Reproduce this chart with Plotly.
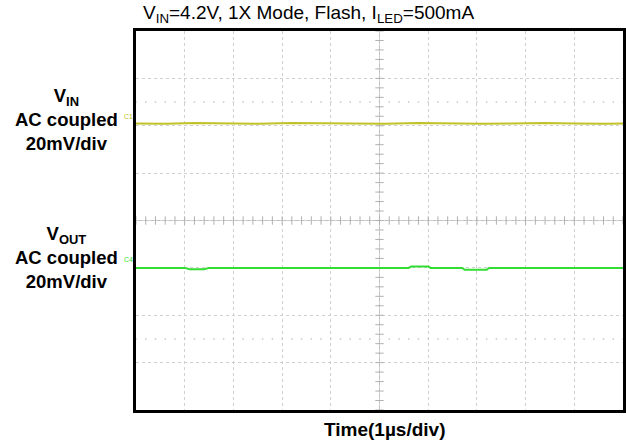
import plotly.graph_objects as go
import numpy as np

# Time in divisions (1 us/div), voltage in divisions (20 mV/div)
t_vin = [0.0, 0.6, 1.2, 1.9, 2.5, 3.2, 3.8, 4.5, 5.1, 5.8, 6.4, 7.1, 7.7, 8.4, 9.0, 9.6, 10.0]
v_vin = [2.05, 2.04, 2.06, 2.05, 2.04, 2.06, 2.05, 2.05, 2.04, 2.06, 2.05, 2.04, 2.05, 2.06, 2.05, 2.04, 2.05]

t_vout = [0.0, 1.0, 1.1, 1.4, 1.5, 3.0, 4.5, 5.6, 5.65, 6.0, 6.05, 6.7, 6.75, 7.2, 7.25, 8.5, 10.0]
v_vout = [-1.0, -1.0, -1.03, -1.03, -1.0, -1.0, -1.0, -1.0, -0.97, -0.97, -1.0, -1.0, -1.04, -1.04, -1.0, -1.0, -1.0]

title_text = "V<sub>IN</sub>=4.2V, 1X Mode, Flash, I<sub>LED</sub>=500mA"
xlabel_text = "<b>Time(1\u00b5s/div)</b>"
vin_label = "<b>V<sub>IN</sub><br>AC coupled<br>20mV/div</b>"
vout_label = "<b>V<sub>OUT</sub><br>AC coupled<br>20mV/div</b>"

FONT = "Liberation Sans, Arial, sans-serif"
L, R, T, B = 136, 3, 31, 34
PW, PH = 626 - L - R, 444 - T - B

fig = go.Figure()

# minor tick marks on the centre cross
minor = np.round(np.arange(0, 10.001, 0.2), 2)
minor_y = np.round(np.arange(-4, 4.001, 0.2), 2)
fig.add_trace(go.Scatter(x=minor, y=[0] * len(minor), mode="markers",
                         marker=dict(symbol="line-ns-open", size=6, color="#b0b0b0", line=dict(width=1, color="#b0b0b0")),
                         hoverinfo="skip", showlegend=False))
fig.add_trace(go.Scatter(x=[5] * len(minor_y), y=minor_y, mode="markers",
                         marker=dict(symbol="line-ew-open", size=6, color="#b0b0b0", line=dict(width=1, color="#b0b0b0")),
                         hoverinfo="skip", showlegend=False))
# sparse dot rows
for yy in (2.5, -2.5):
    fig.add_trace(go.Scatter(x=minor, y=[yy] * len(minor), mode="markers",
                             marker=dict(symbol="square", size=1.5, color="#c8c8c8"),
                             hoverinfo="skip", showlegend=False))

fig.add_shape(type="line", x0=5, x1=5, y0=-4, y1=4, line=dict(color="#c0c0c0", width=1), layer="below")
fig.add_shape(type="line", x0=0, x1=10, y0=0, y1=0, line=dict(color="#c0c0c0", width=1), layer="below")

fig.add_trace(go.Scatter(x=t_vin, y=v_vin, mode="lines", line=dict(color="#c2c228", width=2),
                         hoverinfo="skip", showlegend=False))
fig.add_trace(go.Scatter(x=t_vout, y=v_vout, mode="lines", line=dict(color="#33dd33", width=2),
                         hoverinfo="skip", showlegend=False))

fig.update_xaxes(range=[0, 10], dtick=1, tick0=0, showgrid=True, gridcolor="#d0d0d0", griddash="dot",
                 gridwidth=1, zeroline=False, showticklabels=False, ticks="", automargin=False,
                 showline=True, linecolor="black", linewidth=3, mirror=True)
fig.update_yaxes(range=[-4, 4], dtick=1, tick0=0, showgrid=True, gridcolor="#d0d0d0", griddash="dot",
                 gridwidth=1, zeroline=False, showticklabels=False, ticks="", automargin=False,
                 showline=True, linecolor="black", linewidth=3, mirror=True)

fig.add_annotation(text=title_text, xref="paper", yref="paper", x=(308 - L) / PW, y=1 + (T - 14) / PH,
                   xanchor="center", yanchor="middle", showarrow=False,
                   font=dict(family=FONT, size=19, color="black"))
fig.add_annotation(text=xlabel_text, xref="paper", yref="paper", x=(384 - L) / PW, y=-(429 - (444 - B)) / PH,
                   xanchor="center", yanchor="middle", showarrow=False,
                   font=dict(family=FONT, size=19, color="black"))
fig.add_annotation(text=vin_label, xref="paper", yref="paper", x=-(L - 66) / PW, y=1 - (120 - T) / PH,
                   xanchor="center", yanchor="middle", showarrow=False, align="center",
                   font=dict(family=FONT, size=18.5, color="black"))
fig.add_annotation(text=vout_label, xref="paper", yref="paper", x=-(L - 66) / PW, y=1 - (257 - T) / PH,
                   xanchor="center", yanchor="middle", showarrow=False, align="center",
                   font=dict(family=FONT, size=18.5, color="black"))
fig.add_annotation(text="C1", xref="paper", yref="y", x=-0.002, y=2.2, xanchor="right", yanchor="middle",
                   showarrow=False, font=dict(family=FONT, size=7, color="#c2c228"))
fig.add_annotation(text="C4", xref="paper", yref="y", x=-0.002, y=-0.82, xanchor="right", yanchor="middle",
                   showarrow=False, font=dict(family=FONT, size=7, color="#33dd33"))

fig.update_layout(width=626, height=444, margin=dict(l=L, r=R, t=T, b=B, autoexpand=False),
                  paper_bgcolor="white", plot_bgcolor="white", font=dict(family=FONT))

fig.write_html("out.html", config={"displayModeBar": False, "staticPlot": True},
               post_script="document.body.style.margin='0';document.body.style.padding='0';"
                           "document.body.style.overflow='hidden';")
